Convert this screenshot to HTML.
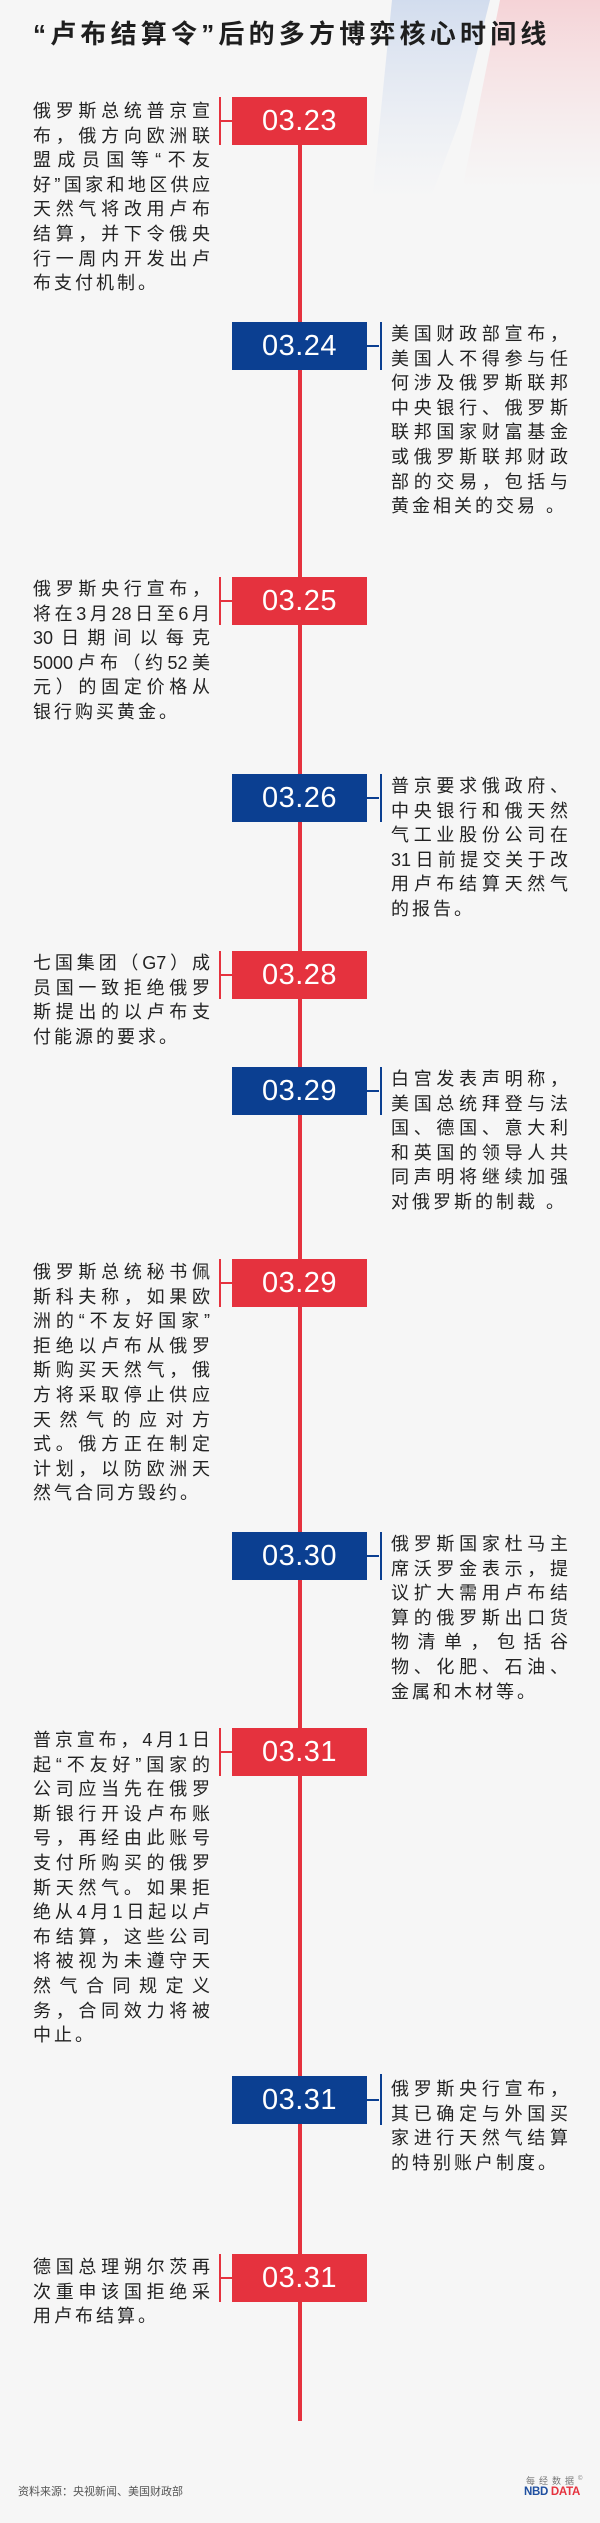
<!DOCTYPE html>
<html><head><meta charset="utf-8"><style>
*{margin:0;padding:0;box-sizing:border-box}
body{width:600px;height:2523px;background:#f6f6f6;position:relative;overflow:hidden;font-family:"Liberation Sans","Noto Sans CJK SC",sans-serif;color:#222}
.title{position:absolute;left:33px;top:14px;font-size:26px;font-weight:bold;letter-spacing:4.2px;white-space:nowrap;color:#1e1e1e;font-family:"Liberation Sans","Noto Sans CJK SC",sans-serif}
.vline{position:absolute;left:298px;width:4px;background:#e5323e}
.box{position:absolute;left:232px;width:135px;height:48px;color:#fff;font-size:29px;text-align:center;line-height:48px;letter-spacing:0.5px}
.r{background:#e5323e}.b{background:#0b3f91}
.br{position:absolute;width:2px;height:48px}
.tick{position:absolute;height:2px;width:12px}
.txt{position:absolute;width:177px;font-size:18px;line-height:24.6px}
.txt div{text-align:justify;text-align-last:justify;white-space:nowrap;overflow:visible;height:24.6px}
.txt div.l{text-align-last:left;letter-spacing:3px}
.L{left:33px}.R{left:391px}
.src{position:absolute;left:18px;top:2483px;font-size:11px;color:#555}
.logo1{position:absolute;left:526px;top:2474px;font-size:9px;color:#777;letter-spacing:4px}
.logo2{position:absolute;left:524px;top:2486px;font-size:11.5px;font-weight:bold;letter-spacing:-0.3px}
</style></head><body>
<svg style="position:absolute;left:0;top:0" width="600" height="220">
<defs>
<linearGradient id="gb" x1="0" y1="0" x2="0" y2="1"><stop offset="0" stop-color="#c9d6ec" stop-opacity=".8"/><stop offset="1" stop-color="#dfe6f3" stop-opacity="0"/></linearGradient>
<linearGradient id="gr" x1="0" y1="0" x2="0" y2="1"><stop offset="0" stop-color="#f5cfd3" stop-opacity=".9"/><stop offset="1" stop-color="#f6dfe1" stop-opacity="0"/></linearGradient>
</defs>
<polygon points="392,0 490,0 460,120 430,200 372,200" fill="url(#gb)"/>
<polygon points="500,0 600,0 600,190 462,190" fill="url(#gr)"/>
</svg>
<div class="title">“卢布结算令”后的多方博弈核心时间线</div>

<div class="vline" style="top:140px;height:2281px"></div>

<div class="box r" style="top:97px">03.23</div>
<div class="box b" style="top:322px">03.24</div>
<div class="box r" style="top:577px">03.25</div>
<div class="box b" style="top:774px">03.26</div>
<div class="box r" style="top:951px">03.28</div>
<div class="box b" style="top:1067px">03.29</div>
<div class="box r" style="top:1259px">03.29</div>
<div class="box b" style="top:1532px">03.30</div>
<div class="box r" style="top:1728px">03.31</div>
<div class="box b" style="top:2076px">03.31</div>
<div class="box r" style="top:2254px">03.31</div>

<div class="br" style="left:219px;top:97px;background:#e5323e"></div><div class="tick" style="left:220px;top:120px;background:#e5323e"></div>
<div class="br" style="left:219px;top:577px;background:#e5323e"></div><div class="tick" style="left:220px;top:600px;background:#e5323e"></div>
<div class="br" style="left:219px;top:951px;background:#e5323e"></div><div class="tick" style="left:220px;top:974px;background:#e5323e"></div>
<div class="br" style="left:219px;top:1259px;background:#e5323e"></div><div class="tick" style="left:220px;top:1282px;background:#e5323e"></div>
<div class="br" style="left:219px;top:1728px;background:#e5323e"></div><div class="tick" style="left:220px;top:1751px;background:#e5323e"></div>
<div class="br" style="left:219px;top:2254px;background:#e5323e"></div><div class="tick" style="left:220px;top:2277px;background:#e5323e"></div>
<div class="br" style="left:380px;top:322px;background:#0b3f91"></div><div class="tick" style="left:367px;top:345px;background:#0b3f91"></div>
<div class="br" style="left:380px;top:774px;background:#0b3f91"></div><div class="tick" style="left:367px;top:797px;background:#0b3f91"></div>
<div class="br" style="left:380px;top:1067px;background:#0b3f91"></div><div class="tick" style="left:367px;top:1090px;background:#0b3f91"></div>
<div class="br" style="left:380px;top:1532px;background:#0b3f91"></div><div class="tick" style="left:367px;top:1555px;background:#0b3f91"></div>
<div class="br" style="left:380px;top:2074px;height:51px;background:#0b3f91"></div><div class="tick" style="left:367px;top:2099px;background:#0b3f91"></div>

<div class="txt L" style="top:99px"><div>俄罗斯总统普京宣</div><div>布，俄方向欧洲联</div><div>盟成员国等“不友</div><div>好”国家和地区供应</div><div>天然气将改用卢布</div><div>结算，并下令俄央</div><div>行一周内开发出卢</div><div class="l">布支付机制。</div></div>

<div class="txt R" style="top:322px"><div>美国财政部宣布，</div><div>美国人不得参与任</div><div>何涉及俄罗斯联邦</div><div>中央银行、俄罗斯</div><div>联邦国家财富基金</div><div>或俄罗斯联邦财政</div><div>部的交易，包括与</div><div class="l">黄金相关的交易 。</div></div>

<div class="txt L" style="top:577px"><div>俄罗斯央行宣布，</div><div>将在3月28日至6月</div><div>30日期间以每克</div><div>5000卢布（约52美</div><div>元）的固定价格从</div><div class="l">银行购买黄金。</div></div>

<div class="txt R" style="top:774px"><div>普京要求俄政府、</div><div>中央银行和俄天然</div><div>气工业股份公司在</div><div>31日前提交关于改</div><div>用卢布结算天然气</div><div class="l">的报告。</div></div>

<div class="txt L" style="top:951px"><div>七国集团（G7）成</div><div>员国一致拒绝俄罗</div><div>斯提出的以卢布支</div><div class="l">付能源的要求。</div></div>

<div class="txt R" style="top:1067px"><div>白宫发表声明称，</div><div>美国总统拜登与法</div><div>国、德国、意大利</div><div>和英国的领导人共</div><div>同声明将继续加强</div><div class="l">对俄罗斯的制裁 。</div></div>

<div class="txt L" style="top:1260px"><div>俄罗斯总统秘书佩</div><div>斯科夫称，如果欧</div><div>洲的“不友好国家”</div><div>拒绝以卢布从俄罗</div><div>斯购买天然气，俄</div><div>方将采取停止供应</div><div>天然气的应对方</div><div>式。俄方正在制定</div><div>计划，以防欧洲天</div><div class="l">然气合同方毁约。</div></div>

<div class="txt R" style="top:1532px"><div>俄罗斯国家杜马主</div><div>席沃罗金表示，提</div><div>议扩大需用卢布结</div><div>算的俄罗斯出口货</div><div>物清单，包括谷</div><div>物、化肥、石油、</div><div class="l">金属和木材等。</div></div>

<div class="txt L" style="top:1728px"><div>普京宣布，4月1日</div><div>起“不友好”国家的</div><div>公司应当先在俄罗</div><div>斯银行开设卢布账</div><div>号，再经由此账号</div><div>支付所购买的俄罗</div><div>斯天然气。如果拒</div><div>绝从4月1日起以卢</div><div>布结算，这些公司</div><div>将被视为未遵守天</div><div>然气合同规定义</div><div>务，合同效力将被</div><div class="l">中止。</div></div>

<div class="txt R" style="top:2077px"><div>俄罗斯央行宣布，</div><div>其已确定与外国买</div><div>家进行天然气结算</div><div class="l">的特别账户制度。</div></div>

<div class="txt L" style="top:2255px"><div>德国总理朔尔茨再</div><div>次重申该国拒绝采</div><div class="l">用卢布结算。</div></div>

<div class="src">资料来源：央视新闻、美国财政部</div>
<div class="logo1">每经数据<sup style="font-size:6px;letter-spacing:0">©</sup></div>
<div class="logo2"><span style="color:#1f4fa0">NBD</span> <span style="color:#e5323e">DATA</span></div>
</body></html>
